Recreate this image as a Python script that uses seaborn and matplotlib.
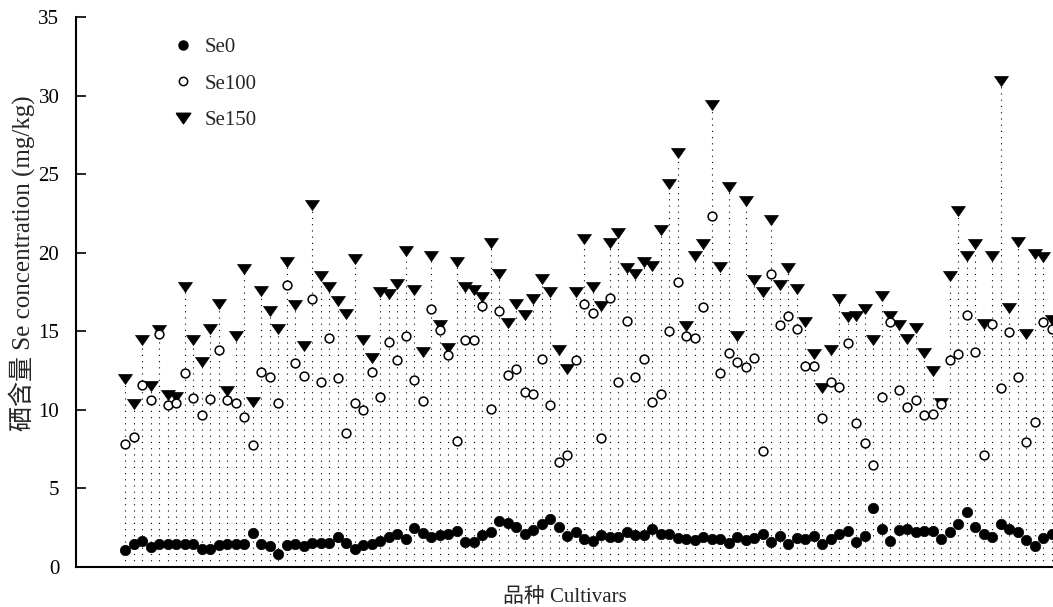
import numpy as np
import pandas as pd
import matplotlib
matplotlib.use("Agg")
import matplotlib.pyplot as plt
import seaborn as sns
from matplotlib.lines import Line2D

se150 = [11.95, 10.37, 14.44, 11.51, 15.07, 10.93, 10.85, 17.85, 14.44, 13.05,
         15.17, 16.71, 11.22, 14.71, 18.95, 10.49, 17.56, 16.29, 15.17, 19.44,
         16.66, 14.07, 23.05, 18.49, 17.85, 16.95, 16.10, 19.63, 14.44, 13.29,
         17.51, 17.37, 18.00, 20.12, 17.63, 13.71, 19.80, 15.37, 13.95, 19.44,
         17.80, 17.61, 17.20, 20.61, 18.66, 15.54, 16.71, 16.05, 17.07, 18.34,
         17.51, 13.78, 12.63, 17.51, 20.85, 17.80, 16.59, 20.61, 21.27, 19.02,
         18.66, 19.39, 19.15, 21.46, 24.39, 26.34, 15.32, 19.80, 20.56, 29.39,
         19.10, 24.20, 14.71, 23.29, 18.29, 17.51, 22.07, 17.93, 19.02, 17.68,
         15.56, 13.54, 11.41, 13.78, 17.07, 15.90, 15.98, 16.39, 14.44, 17.27,
         15.98, 15.41, 14.51, 15.24, 13.61, 12.49, 10.44, 18.49, 22.63, 19.76,
         20.54, 15.49, 19.80, 30.93, 16.51, 20.68, 14.80, 19.95, 19.71, 15.73]

se100 = [7.85, 8.29, 11.59, 10.61, 14.80, 10.32, 10.44, 12.32, 10.73, 9.68,
         10.66, 13.83, 10.61, 10.44, 9.56, 7.76, 12.44, 12.07, 10.41, 17.93,
         12.98, 12.15, 17.07, 11.80, 14.56, 12.02, 8.54, 10.44, 10.00, 12.39,
         10.85, 14.34, 13.17, 14.68, 11.88, 10.54, 16.39, 15.07, 13.49, 8.05,
         14.46, 14.46, 16.59, 10.05, 16.29, 12.20, 12.63, 11.15, 10.98, 13.22,
         10.29, 6.71, 7.12, 13.17, 16.71, 16.15, 8.22, 17.12, 11.76, 15.66,
         12.07, 13.24, 10.49, 10.98, 15.00, 18.12, 14.68, 14.59, 16.54, 22.32,
         12.32, 13.61, 13.05, 12.73, 13.29, 7.37, 18.66, 15.37, 15.98, 15.12,
         12.80, 12.80, 9.46, 11.76, 11.46, 14.27, 9.15, 7.88, 6.46, 10.85,
         15.61, 11.29, 10.20, 10.61, 9.68, 9.76, 10.37, 13.17, 13.54, 16.05,
         13.66, 7.12, 15.49, 11.41, 14.95, 12.07, 7.93, 9.22, 15.56, 15.17]

se0 = [1.10, 1.46, 1.66, 1.27, 1.46, 1.46, 1.46, 1.46, 1.46, 1.17,
       1.17, 1.41, 1.46, 1.46, 1.46, 2.15, 1.46, 1.34, 0.85, 1.41,
       1.46, 1.34, 1.51, 1.51, 1.51, 1.90, 1.51, 1.17, 1.41, 1.46,
       1.63, 1.90, 2.07, 1.76, 2.51, 2.15, 1.88, 2.03, 2.12, 2.27,
       1.59, 1.59, 2.02, 2.24, 2.93, 2.80, 2.56, 2.07, 2.37, 2.73,
       3.05, 2.56, 1.95, 2.20, 1.76, 1.63, 2.02, 1.88, 1.88, 2.24,
       2.02, 2.02, 2.39, 2.07, 2.07, 1.83, 1.76, 1.71, 1.90, 1.76,
       1.76, 1.51, 1.90, 1.71, 1.83, 2.12, 1.59, 2.00, 1.46, 1.83,
       1.76, 1.95, 1.46, 1.76, 2.12, 2.32, 1.59, 1.95, 3.78, 2.44,
       1.63, 2.37, 2.44, 2.20, 2.32, 2.32, 1.76, 2.24, 2.76, 3.49,
       2.56, 2.07, 1.88, 2.76, 2.44, 2.20, 1.71, 1.34, 1.83, 2.12]

series_names = ["Se0", "Se100", "Se150"]
yticks = [0, 5, 10, 15, 20, 25, 30, 35]

cultivar = np.arange(len(se0))
df = pd.DataFrame({"cultivar": cultivar, "Se0": se0, "Se100": se100, "Se150": se150})
df["top"] = df[series_names].max(axis=1)

sns.set_style("white")
serif = ["Liberation Serif", "Noto Sans CJK SC"]
plt.rcParams["font.family"] = serif

W, H = 1053, 607
fig = plt.figure(figsize=(W / 100, H / 100), dpi=100)
left_px, right_px, bottom_px, top_px = 76, 1053, 567, 17
ax = fig.add_axes([left_px / W, 1 - bottom_px / H,
                   (right_px - left_px) / W, (bottom_px - top_px) / H])

# dotted stems from 0 up to the highest value of each cultivar
ax.vlines(df["cultivar"], 0, df["top"], colors="black", linewidth=0.8,
          linestyles=(0, (1, 4.6)), zorder=1)

tri = [(-1, 0.72), (1, 0.72), (0, -0.72), (-1, 0.72)]
sns.scatterplot(data=df, x="cultivar", y="Se150", ax=ax, marker=tri, s=100,
                color="black", edgecolor="black", linewidth=0.5, zorder=3,
                legend=False)
sns.scatterplot(data=df, x="cultivar", y="Se100", ax=ax, marker="o", s=40,
                facecolor="white", edgecolor="black", linewidth=1.1, zorder=4,
                legend=False)
sns.scatterplot(data=df, x="cultivar", y="Se0", ax=ax, marker="o", s=56,
                color="black", edgecolor="black", linewidth=0.5, zorder=5,
                legend=False)

spacing = 8.5
first_px = 125
ax.set_xlim((left_px - first_px) / spacing, (right_px - first_px) / spacing)
ax.set_ylim(0, 35)
ax.set_yticks(yticks)
ax.set_yticklabels([str(t) for t in yticks])
ax.set_xticks([])
ax.tick_params(axis="y", direction="in", length=7, width=1.2, labelsize=15,
               left=True, pad=12, colors="black")
for s in ["top", "right"]:
    ax.spines[s].set_visible(False)
for s in ["left", "bottom"]:
    ax.spines[s].set_color("black")
    ax.spines[s].set_linewidth(1.5)

ax.set_xlabel("品种 Cultivars", fontsize=15, family=serif, labelpad=15)
ax.set_ylabel("硒含量 Se concentration (mg/kg)", fontsize=18, family=serif)
ax.yaxis.set_label_coords((35 - left_px) / (right_px - left_px),
                          (bottom_px - 263) / (bottom_px - top_px))

handles = [
    Line2D([], [], linestyle="none", marker="o", markersize=6.5, color="black"),
    Line2D([], [], linestyle="none", marker="o", markersize=6, markerfacecolor="white",
           markeredgecolor="black", markeredgewidth=1.1),
    Line2D([], [], linestyle="none", marker=tri, markersize=10.5, color="black"),
]
ax.legend(handles, series_names, loc="upper left",
          bbox_to_anchor=(152 / W, 1 - 19 / H), bbox_transform=fig.transFigure,
          frameon=False, fontsize=15, handletextpad=0.45, labelspacing=0.8,
          handlelength=1.2)

fig.savefig("out.png", dpi=100)
